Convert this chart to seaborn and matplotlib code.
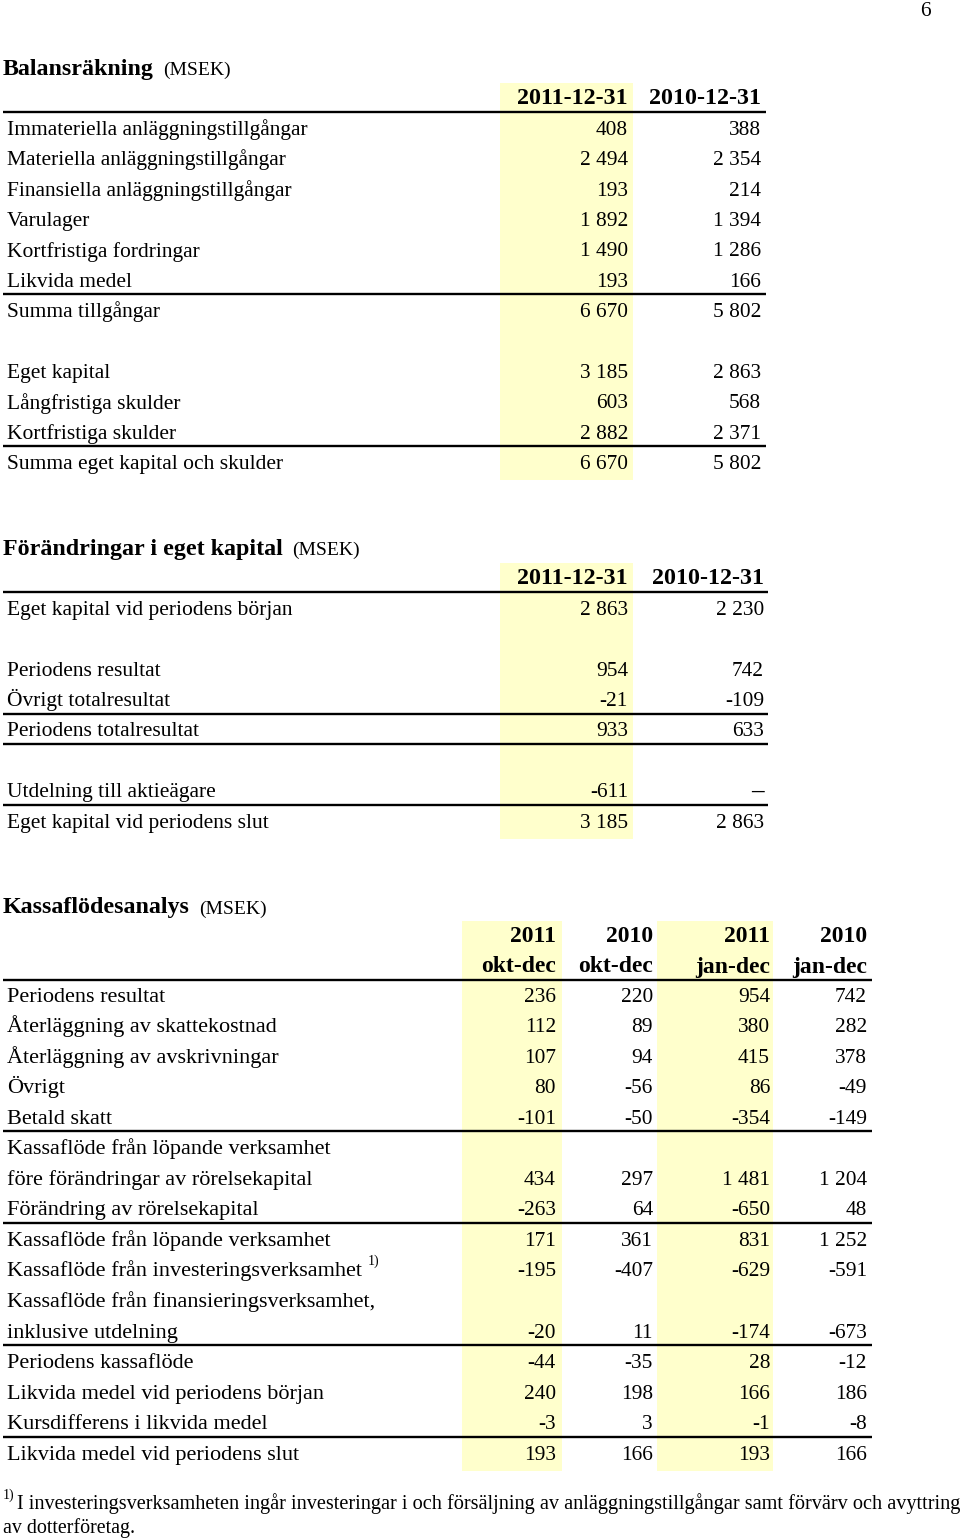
import matplotlib
matplotlib.use("Agg")
import matplotlib.pyplot as plt
from matplotlib.patches import Rectangle
import seaborn as sns

# ---------------- data ----------------
page_number = "6"

bal_title = "Balansräkning"
bal_cols = ["2011-12-31", "2010-12-31"]
bal_labels = ["Immateriella anläggningstillgångar", "Materiella anläggningstillgångar",
              "Finansiella anläggningstillgångar", "Varulager", "Kortfristiga fordringar",
              "Likvida medel", "Summa tillgångar", "",
              "Eget kapital", "Långfristiga skulder", "Kortfristiga skulder",
              "Summa eget kapital och skulder"]
bal_2011 = [408, 2494, 193, 1892, 1490, 193, 6670, None, 3185, 603, 2882, 6670]
bal_2010 = [388, 2354, 214, 1394, 1286, 166, 5802, None, 2863, 568, 2371, 5802]
bal_rules = [5, 10]          # rule drawn under these rows

eq_title = "Förändringar i eget kapital"
eq_cols = ["2011-12-31", "2010-12-31"]
eq_labels = ["Eget kapital vid periodens början", "", "Periodens resultat",
             "Övrigt totalresultat", "Periodens totalresultat", "",
             "Utdelning till aktieägare", "Eget kapital vid periodens slut"]
eq_2011 = [2863, None, 954, -21, 933, None, -611, 3185]
eq_2010 = [2230, None, 742, -109, 633, None, "–", 2863]
eq_rules = [3, 4, 6]

cf_title = "Kassaflödesanalys"
cf_cols_year = ["2011", "2010", "2011", "2010"]
cf_cols_period = ["okt-dec", "okt-dec", "jan-dec", "jan-dec"]
cf_labels = ["Periodens resultat", "Återläggning av skattekostnad",
             "Återläggning av avskrivningar", "Övrigt", "Betald skatt",
             "Kassaflöde från löpande verksamhet", "före förändringar av rörelsekapital",
             "Förändring av rörelsekapital", "Kassaflöde från löpande verksamhet",
             "Kassaflöde från investeringsverksamhet",
             "Kassaflöde från finansieringsverksamhet,", "inklusive utdelning",
             "Periodens kassaflöde", "Likvida medel vid periodens början",
             "Kursdifferens i likvida medel", "Likvida medel vid periodens slut"]
cf_q2011 = [236, 112, 107, 80, -101, None, 434, -263, 171, -195, None, -20, -44, 240, -3, 193]
cf_q2010 = [220, 89, 94, -56, -50, None, 297, 64, 361, -407, None, 11, -35, 198, 3, 166]
cf_y2011 = [954, 380, 415, 86, -354, None, 1481, -650, 831, -629, None, -174, 28, 166, -1, 193]
cf_y2010 = [742, 282, 378, -49, -149, None, 1204, 48, 1252, -591, None, -673, -12, 186, -8, 166]
cf_rules = [4, 7, 11, 14]
cf_footnote_row = 9

footnote_mark = "1)"
footnote_lines = ["I investeringsverksamheten ingår investeringar i och försäljning av anläggningstillgångar samt förvärv och avyttring",
                  "av dotterföretag."]

# ---------------- style ----------------
sns.set_theme(style="white")
plt.rcParams["font.family"] = ["Liberation Serif", "DejaVu Serif"]
plt.rcParams["text.color"] = "black"

HL = "#FFFFCC"
BODY = 15.4
LAB12 = 15.5
LAB3 = 16.0
HEAD = 17.3
HEAD3 = 17.0
TITLE = 17.3
SUB = 14.0
LW = 1.7


def fmt(v):
    if v is None:
        return ""
    if isinstance(v, str):
        return v
    return f"{v:,}".replace(",", " ")


fig = plt.figure(figsize=(9.6, 15.39), dpi=100)
ax = fig.add_axes([0, 0, 1, 1])
ax.set_xlim(0, 960)
ax.set_ylim(1539, 0)
ax.axis("off")

BL = 6.5  # baseline offset from visual row centre


def txt(x, y, s, size=BODY, ha="left", weight="normal"):
    return ax.text(x, y + BL, s, fontsize=size, ha=ha, va="baseline", fontweight=weight)


def title(y, main):
    t = ax.text(3, y + BL, main, fontsize=TITLE, fontweight="bold", va="baseline")
    fig.canvas.draw()
    bb = t.get_window_extent()
    ax.text(bb.x1 + 9, y + BL, "(MSEK)", fontsize=SUB, va="baseline")


def rule(y, x0, x1):
    ax.plot([x0, x1], [y, y], color="black", lw=LW, solid_capstyle="butt")


ax.text(931, 10 + BL, page_number, fontsize=BODY, ha="right", va="baseline")

# ---------- section 1 ----------
p1 = 30.4
h1 = 98
title(h1 - 30, bal_title)
n1 = len(bal_labels)
ax.add_patch(Rectangle((500, h1 - 15), 133, p1 * (n1 + 1) + 2, color=HL, lw=0, zorder=0))
col_r1 = [628, 761]
for c, lab in enumerate(bal_cols):
    txt(col_r1[c], h1, lab, size=HEAD, ha="right", weight="bold")
rule(h1 + 13.5, 3, 766)
for i, lab in enumerate(bal_labels):
    y = h1 + p1 * (i + 1)
    txt(7, y, lab, size=LAB12)
    txt(col_r1[0], y, fmt(bal_2011[i]), ha="right")
    txt(col_r1[1], y, fmt(bal_2010[i]), ha="right")
    if i in bal_rules:
        rule(y + 14, 3, 766)

# ---------- section 2 ----------
h2 = 578
title(h2 - 30, eq_title)
n2 = len(eq_labels)
ax.add_patch(Rectangle((500, h2 - 15), 133, p1 * (n2 + 1) + 2, color=HL, lw=0, zorder=0))
col_r2 = [628, 764]
for c, lab in enumerate(eq_cols):
    txt(col_r2[c], h2, lab, size=HEAD, ha="right", weight="bold")
rule(h2 + 13.5, 3, 768)
for i, lab in enumerate(eq_labels):
    y = h2 + p1 * (i + 1)
    txt(7, y, lab, size=LAB12)
    txt(col_r2[0], y, fmt(eq_2011[i]), ha="right")
    v = eq_2010[i]
    if isinstance(v, str):
        txt(col_r2[1], y, v, size=18, ha="right", weight="bold")
    else:
        txt(col_r2[1], y, fmt(v), ha="right")
    if i in eq_rules:
        rule(y + 14, 3, 768)

# ---------- section 3 ----------
h3a, h3b = 936, 966
p3 = 30.55
title(907, cf_title)
n3 = len(cf_labels)
top3 = h3a - 15
bot3 = h3b + 14 + p3 * n3 + 2
ax.add_patch(Rectangle((462, top3), 100, bot3 - top3, color=HL, lw=0, zorder=0))
ax.add_patch(Rectangle((657, top3), 116, bot3 - top3, color=HL, lw=0, zorder=0))
col_r3 = [556, 653, 770, 867]
for c in range(4):
    txt(col_r3[c], h3a, cf_cols_year[c], size=HEAD3, ha="right", weight="bold")
    txt(col_r3[c], h3b, cf_cols_period[c], size=HEAD3, ha="right", weight="bold")
rule(h3b + 13.5, 3, 872)
series3 = [cf_q2011, cf_q2010, cf_y2011, cf_y2010]
for i, lab in enumerate(cf_labels):
    y = 995 + p3 * i
    t = txt(7, y, lab, size=LAB3)
    if i == cf_footnote_row:
        fig.canvas.draw()
        bb = t.get_window_extent()
        ax.text(bb.x1 + 6, y - 5, footnote_mark, fontsize=10, va="baseline")
    for c in range(4):
        txt(col_r3[c], y, fmt(series3[c][i]), ha="right")
    if i in cf_rules:
        rule(y + 14, 3, 872)

# ---------- footnote ----------
ax.text(3, 1499, footnote_mark, fontsize=10, va="baseline")
ax.text(17, 1502 + BL, footnote_lines[0], fontsize=14.55, va="baseline")
ax.text(3, 1526 + BL, footnote_lines[1], fontsize=14.4, va="baseline")

fig.savefig("out.png", dpi=100, facecolor="white")
